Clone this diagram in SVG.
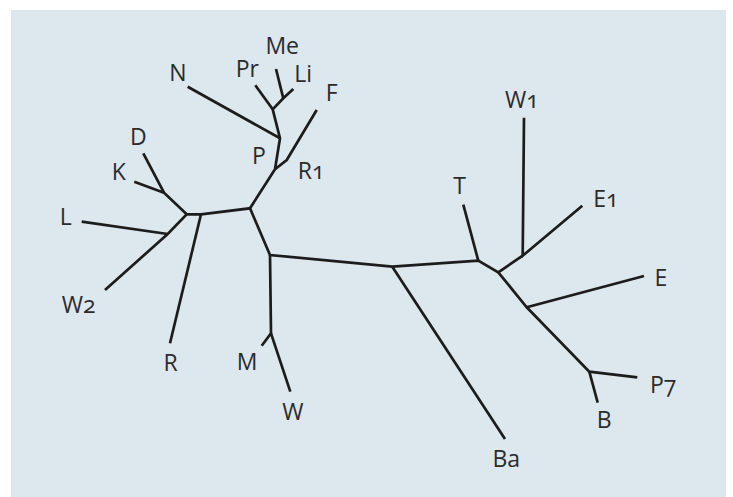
<svg xmlns="http://www.w3.org/2000/svg" width="733" height="497" viewBox="0 0 733 497">
  <style>
    .panel { fill: #dde7ee; }
    .edge { fill: none; stroke: #1c1c1c; stroke-width: 2.7; stroke-linejoin: miter; stroke-linecap: butt; }
    .lbl { font-family: "Open Sans", "Noto Sans", "DejaVu Sans", sans-serif; font-size: 23px; fill: #2b2b2b; font-variant-numeric: oldstyle-nums; font-feature-settings: "onum" 1; }
    .c { text-anchor: middle; }
  </style>
  <rect class="panel" x="11" y="10" width="715" height="487"/>

  <!-- unrooted tree branches -->
  <g id="edges" class="edge">
    <path d="M187.7,86.7 L280,138.3"/>
    <path d="M255.3,85.3 L272.7,109.3"/>
    <path d="M276,69 L283.3,98.3"/>
    <path d="M293.3,89 L283.3,98.3 L272.7,109.3 L280,138.3 L275,169.3 L250,208.3"/>
    <path d="M316.7,110 L286.7,160 L275,169.3"/>
    <path d="M143.3,153.3 L164,192.7 L186.7,214.3"/>
    <path d="M134.3,181.7 L164,192.7"/>
    <path d="M81.7,221.7 L167.7,234"/>
    <path d="M105,290 L167.7,234 L186.7,214.3 L201,214.3 L250,208.3 L270,255 L392.3,266.7 L478.3,260.7 L498.3,272.3 L522.7,255.7"/>
    <path d="M170,343.3 L201,214.3"/>
    <path d="M261.7,345.7 L271,333.3 L270,255"/>
    <path d="M290.3,391.7 L271,333.3"/>
    <path d="M505,439 L392.3,266.7"/>
    <path d="M463.3,204.7 L478.3,260.7"/>
    <path d="M524,117.7 L522.7,255.7 L582.3,205.7"/>
    <path d="M498.3,272.3 L526.7,307.3 L644,276"/>
    <path d="M526.7,307.3 L589.3,371.7 L637.3,377.3"/>
    <path d="M589.3,371.7 L597.7,402.7"/>
  </g>

  <!-- leaf labels -->
  <g id="node-Me"><text class="lbl c" x="282.2" y="54.3">Me</text></g>
  <g id="node-Pr"><text class="lbl c" x="247.3" y="76.7">Pr</text></g>
  <g id="node-Li"><text class="lbl c" x="303.2" y="81.7">Li</text></g>
  <g id="node-N"><text class="lbl c" x="177.8" y="80.7">N</text></g>
  <g id="node-F"><text class="lbl c" x="331.7" y="100.7">F</text></g>
  <g id="node-P"><text class="lbl c" x="258.8" y="164.3">P</text></g>
  <g id="node-R1"><text class="lbl" x="297.7" y="179.3">R1</text></g>
  <g id="node-D"><text class="lbl c" x="138.3" y="145">D</text></g>
  <g id="node-K"><text class="lbl c" x="118.8" y="180">K</text></g>
  <g id="node-L"><text class="lbl c" x="65.7" y="225">L</text></g>
  <g id="node-W2"><text class="lbl" x="61.7" y="313.3">W2</text></g>
  <g id="node-R"><text class="lbl c" x="170.5" y="370.5">R</text></g>
  <g id="node-M"><text class="lbl c" x="247.2" y="370">M</text></g>
  <g id="node-W"><text class="lbl c" x="292.8" y="420">W</text></g>
  <g id="node-Ba"><text class="lbl c" x="506.2" y="467.3">Ba</text></g>
  <g id="node-T"><text class="lbl c" x="459.5" y="194">T</text></g>
  <g id="node-W1"><text class="lbl" x="505" y="107.7">W1</text></g>
  <g id="node-E1"><text class="lbl" x="593.3" y="206.7">E1</text></g>
  <g id="node-E"><text class="lbl c" x="661" y="286">E</text></g>
  <g id="node-P7"><text class="lbl" x="650" y="393.3">P7</text></g>
  <g id="node-B"><text class="lbl c" x="604.3" y="428.3">B</text></g>
</svg>
